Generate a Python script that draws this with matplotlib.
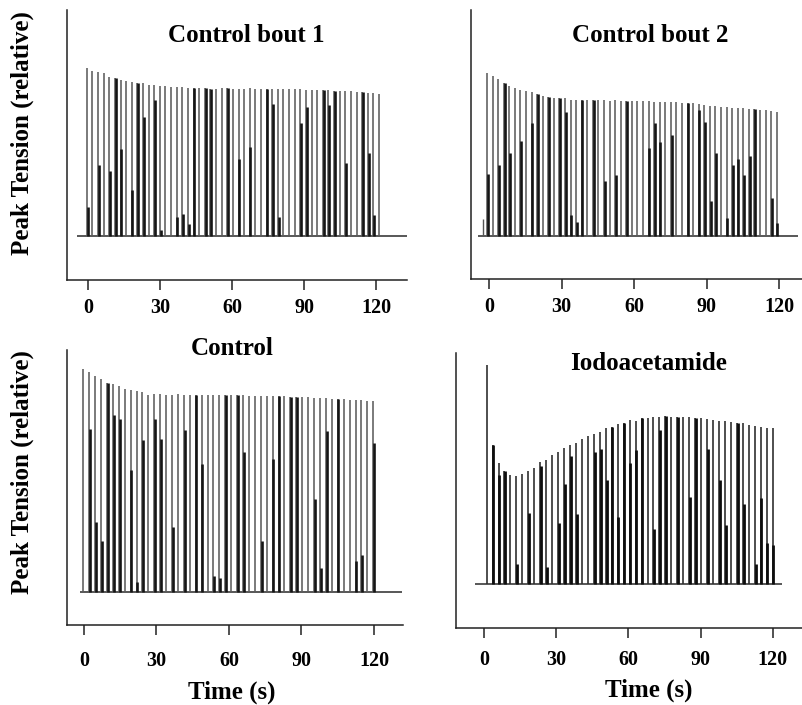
import numpy as np
import matplotlib
matplotlib.use("Agg")
import matplotlib.pyplot as plt

W, H = 803, 705
DPI = 100

# ---- data: peak tension of each twitch (relative to the first twitch) ----
bout1_peaks = [1.000, 0.984, 0.978, 0.968, 0.948, 0.939, 0.929, 0.923, 0.918, 0.909,
               0.909, 0.899, 0.899, 0.893, 0.893, 0.887, 0.884, 0.884, 0.881, 0.881,
               0.879, 0.879, 0.877, 0.877, 0.879, 0.879, 0.877, 0.877, 0.877, 0.879,
               0.877, 0.877, 0.877, 0.875, 0.877, 0.875, 0.875, 0.873, 0.873, 0.871,
               0.871, 0.869, 0.867, 0.867, 0.865, 0.863, 0.863, 0.861, 0.859, 0.857,
               0.853, 0.851, 0.847]
# fraction of each twitch drawn as the dense (dark) part of the trace
bout1_dense = [0.17, 0, 0.43, 0, 0.41, 1.0, 0.56, 0, 0.30, 1.0,
               0.78, 0, 0.90, 0.04, 0, 0, 0.13, 0.15, 0.08, 1.0,
               0, 1.0, 1.0, 0, 0, 1.0, 0, 0.52, 0, 0.60,
               0, 0, 1.0, 0.90, 0.13, 0, 0, 0, 0.77, 0.88,
               0, 0, 1.0, 0.90, 1.0, 0, 0.50, 0, 0, 1.0,
               0.58, 0.15, 0]
bout1_start, bout1_end = -0.5, 121.25

bout2_peaks = [1.000, 0.980, 0.959, 0.939, 0.918, 0.904, 0.894, 0.890, 0.884, 0.869,
               0.857, 0.849, 0.843, 0.847, 0.843, 0.835, 0.833, 0.833, 0.831, 0.833,
               0.831, 0.833, 0.829, 0.831, 0.829, 0.829, 0.827, 0.827, 0.825, 0.824,
               0.822, 0.822, 0.820, 0.820, 0.818, 0.815, 0.814, 0.812, 0.810, 0.802,
               0.798, 0.796, 0.792, 0.788, 0.786, 0.784, 0.782, 0.779, 0.775, 0.771,
               0.768, 0.765, 0.761]
bout2_dense = [0.38, 0, 0.45, 1.0, 0.55, 0, 0.65, 0, 0.78, 1.0,
               0, 1.0, 0, 1.0, 0.90, 0.15, 0.10, 1.0, 0, 1.0,
               0, 0.40, 0, 0.45, 0, 1.0, 0, 0, 0, 0.65,
               0.84, 0.70, 0, 0.75, 0, 0, 1.0, 0, 0.95, 0.87,
               0.27, 0.64, 0, 0.14, 0.55, 0.60, 0.48, 0.63, 1.0, 0,
               0, 0.30, 0.10]
bout2_start, bout2_end = -0.8, 119.0
bout2_pre_time, bout2_pre_peak = -2.6, 0.10

control_peaks = [1.000, 0.985, 0.970, 0.955, 0.937, 0.934, 0.925, 0.910, 0.907, 0.900,
                 0.895, 0.885, 0.889, 0.889, 0.885, 0.885, 0.887, 0.885, 0.885, 0.883,
                 0.885, 0.883, 0.883, 0.885, 0.883, 0.882, 0.883, 0.882, 0.880, 0.880,
                 0.880, 0.879, 0.879, 0.877, 0.877, 0.876, 0.875, 0.873, 0.873, 0.870,
                 0.870, 0.868, 0.866, 0.865, 0.863, 0.862, 0.860, 0.859, 0.857, 0.855]
control_dense = [0, 0.74, 0.32, 0.24, 1.0, 0.85, 0.84, 0, 0.60, 0.05,
                 0.76, 0, 0.87, 0.77, 0, 0.33, 0, 0.82, 0, 1.0,
                 0.65, 0, 0.08, 0.07, 1.0, 0, 1.0, 0.71, 0, 0,
                 0.26, 0, 0.68, 1.0, 0, 1.0, 1.0, 0, 0, 0.48,
                 0.12, 0.83, 0, 1.0, 0, 0, 0.16, 0.19, 0, 0.78]
control_start, control_end = -0.3, 119.7

iodo_peaks = [1.000, 0.635, 0.554, 0.517, 0.496, 0.493, 0.502, 0.516, 0.531, 0.556,
              0.566, 0.589, 0.604, 0.620, 0.635, 0.645, 0.662, 0.677, 0.684, 0.693,
              0.711, 0.718, 0.731, 0.737, 0.749, 0.746, 0.757, 0.757, 0.761, 0.764,
              0.767, 0.764, 0.764, 0.764, 0.761, 0.757, 0.757, 0.753, 0.749, 0.746,
              0.746, 0.741, 0.737, 0.734, 0.726, 0.722, 0.718, 0.715, 0.711]
iodo_dense = [0, 1.0, 0.90, 1.0, 0, 0.19, 0, 0.63, 0, 0.97,
              0.14, 0, 0.46, 0.74, 0.92, 0.50, 0, 0, 0.88, 0.89,
              0.67, 1.0, 0.42, 1.0, 0.74, 0.82, 1.0, 0, 0.33, 0.92,
              1.0, 0, 1.0, 0, 0.52, 1.0, 0, 0.82, 0, 0.64,
              0.36, 0, 1.0, 0.50, 0, 0.13, 0.55, 0.26, 0.25]
iodo_start, iodo_end = 1.1, 119.9

titles = ["Control bout 1", "Control bout 2", "Control", "Iodoacetamide"]
xticks = [0, 30, 60, 90, 120]
ylabel = "Peak Tension (relative)"
xlabel = "Time (s)"

SERIF = ["Liberation Serif", "DejaVu Serif"]
plt.rcParams["font.family"] = SERIF
plt.rcParams["font.weight"] = "bold"

fig = plt.figure(figsize=(W / DPI, H / DPI), dpi=DPI)


def px_axes(left, top, right, bottom):
    return fig.add_axes([left / W, 1 - bottom / H, (right - left) / W, (bottom - top) / H])


def draw_panel(ax, peaks, dense, t0, t1, xlim, ylim, base_span, light, dark,
               lw_light, lw_dark, pad):
    n = len(peaks)
    times = np.linspace(t0, t1, n)
    peaks = np.asarray(peaks)
    dense = np.asarray(dense) * peaks
    ax.hlines(0, base_span[0], base_span[1], color="#2a2a2a", lw=1.1)
    ax.vlines(times, 0, peaks, color=light, lw=lw_light)
    m = dense > 0
    ax.vlines(times[m] + 0.3, 0, dense[m], color=dark, lw=lw_dark)
    ax.set_xlim(*xlim)
    ax.set_ylim(*ylim)
    for s in ("top", "right"):
        ax.spines[s].set_visible(False)
    for s in ("left", "bottom"):
        ax.spines[s].set_linewidth(1.1)
        ax.spines[s].set_color("#222222")
    ax.set_yticks([])
    ax.set_xticks(xticks)
    ax.set_xticklabels([str(v) for v in xticks], fontsize=14.5, fontweight="bold")
    ax.tick_params(axis="x", direction="out", length=7.5, width=1.1, pad=pad,
                   color="#222222")
    ax.patch.set_alpha(0)
    return times


ax1 = px_axes(67, 10, 407, 280)
draw_panel(ax1, bout1_peaks, bout1_dense, bout1_start, bout1_end,
           (-8.75, 132.9), (-0.262, 1.345), (-4.5, 134),
           "#5c5c5c", "#151515", 1.15, 1.9, 5.5)

ax2 = px_axes(471, 10, 803, 279)
draw_panel(ax2, bout2_peaks, bout2_dense, bout2_start, bout2_end,
           (-7.45, 129.9), (-0.265, 1.384), (-4.4, 127.9),
           "#5c5c5c", "#151515", 1.15, 1.9, 5.5)
ax2.vlines([bout2_pre_time], 0, [bout2_pre_peak], color="#555555", lw=1.0)

ax3 = px_axes(67, 350, 403, 625)
draw_panel(ax3, control_peaks, control_dense, control_start, control_end,
           (-7.03, 132.0), (-0.15, 1.085), (-1.6, 131.4),
           "#5c5c5c", "#151515", 1.15, 1.9, 11)

ax4 = px_axes(456, 353, 803, 628)
draw_panel(ax4, iodo_peaks, iodo_dense, iodo_start, iodo_end,
           (-11.6, 132.5), (-0.2, 1.055), (-3.7, 123.7),
           "#303030", "#0d0d0d", 1.2, 2.0, 8)

# panel titles
title_pos = [(246, 35), (650, 35), (232, 348), (649, 363)]
for (x, y), t in zip(title_pos, titles):
    fig.text(x / W, 1 - y / H, t, ha="center", va="center",
             fontsize=18, fontweight="bold")

# shared axis labels
for y in (133, 472):
    fig.text(22 / W, 1 - y / H, ylabel, rotation=90, ha="center", va="center",
             fontsize=18, fontweight="bold")
for x, y in ((232, 692), (649, 690)):
    fig.text(x / W, 1 - y / H, xlabel, ha="center", va="center",
             fontsize=18, fontweight="bold")

fig.savefig("out.png", dpi=DPI)
